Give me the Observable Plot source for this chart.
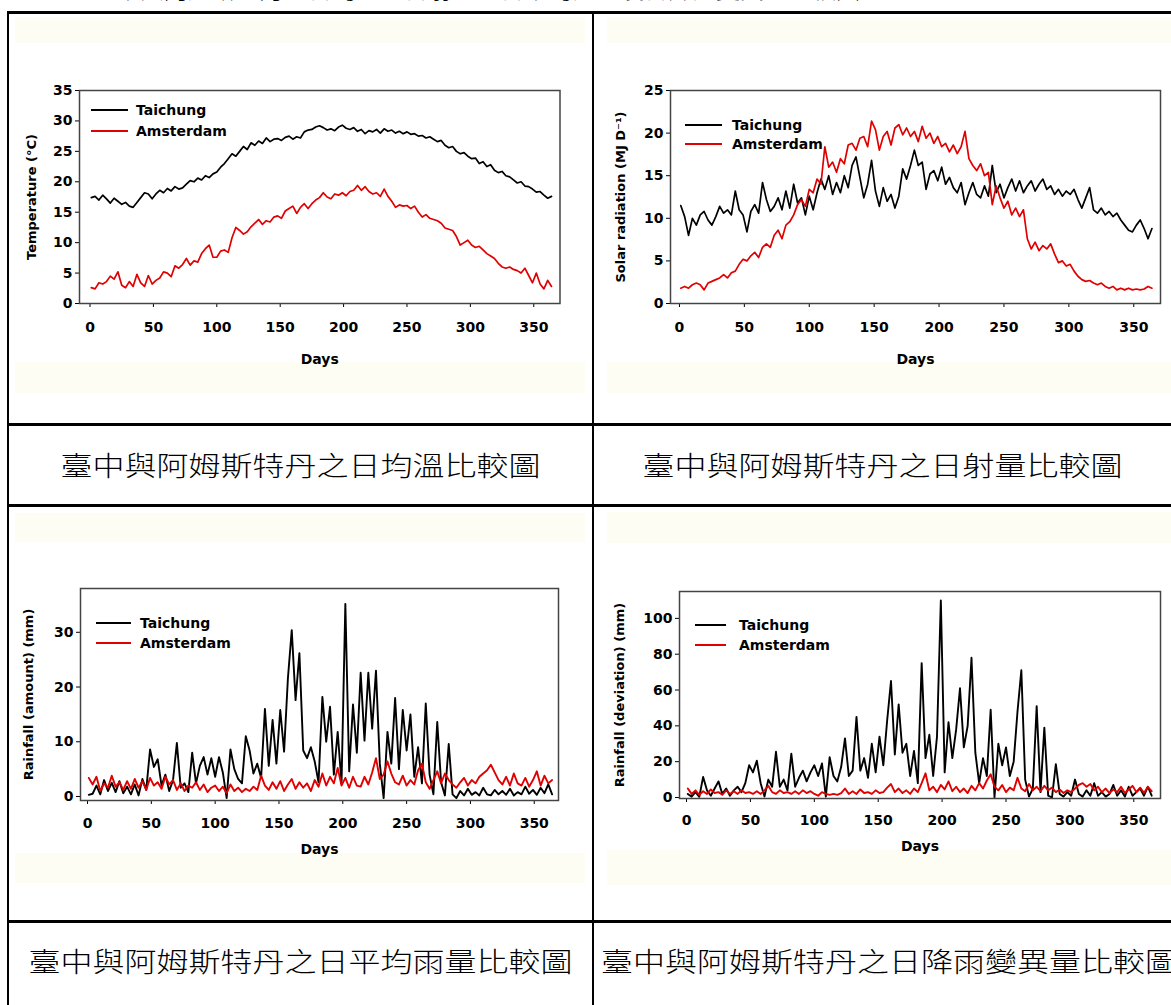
<!DOCTYPE html>
<html><head><meta charset="utf-8">
<script src="https://cdn.jsdelivr.net/npm/d3@7"></script>
<script src="https://cdn.jsdelivr.net/npm/@observablehq/plot@0.6"></script>
<style>
body{margin:0;background:#fff;}
#page{position:relative;width:1171px;height:1005px;overflow:hidden;background:#fff;}
.ln{position:absolute;background:#000;}
.cream{position:absolute;background:#fdfdf3;}
.cap{position:absolute;font-family:"Noto Sans CJK TC","Noto Sans CJK SC",sans-serif;font-weight:300;font-size:27px;line-height:30px;color:#000;white-space:nowrap;text-align:center;}
.cap span{display:inline-block;transform:scaleX(1.185);}
.sw{position:absolute;height:2px;}
.lt{position:absolute;font-family:"DejaVu Sans",sans-serif;font-weight:bold;font-size:14px;line-height:18px;white-space:nowrap;color:#000;}
</style></head>
<body><div id="page"></div>
<script>
// ---------- data (daily values read every 3rd day: day 1, 4, 7, ... 364) ----------
const cities = ["Taichung", "Amsterdam"];
const cityColors = ["#000000", "#e00000"];
const dayTicks = [0, 50, 100, 150, 200, 250, 300, 350];
const tempTicks = [0, 5, 10, 15, 20, 25, 30, 35];
const solarTicks = [0, 5, 10, 15, 20, 25];
const rainTicks = [0, 10, 20, 30];
const devTicks = [0, 20, 40, 60, 80, 100];

const taichungTemp = [17.4,17.6,17.0,17.8,17.2,16.5,17.3,16.8,16.3,16.6,
16.0,15.8,16.6,17.4,18.2,18.0,17.2,18.0,18.6,18.2,
18.9,18.5,19.2,18.8,19.0,19.6,20.2,20.0,20.6,20.3,
21.0,20.7,21.3,21.6,22.4,23.0,23.8,24.6,24.2,25.0,
25.8,25.3,26.4,26.0,26.7,26.3,27.2,26.6,27.0,27.1,
26.8,27.3,27.5,27.0,27.4,27.2,28.2,28.5,28.6,29.0,
29.2,28.9,28.5,28.7,28.4,29.0,29.3,28.8,28.6,28.9,
28.3,28.6,27.9,28.4,28.2,28.6,28.0,28.7,28.3,28.5,
28.0,28.3,27.9,28.2,27.8,27.9,27.5,27.6,27.2,27.4,
27.0,26.6,26.8,26.0,25.6,25.8,25.0,24.6,24.8,24.2,
23.8,23.9,23.0,23.3,22.5,22.8,21.9,21.5,21.7,21.0,
20.8,20.3,19.8,20.0,19.3,19.2,18.8,18.3,18.4,17.8,
17.3,17.6];
const amsterdamTemp = [2.6,2.4,3.4,3.2,3.6,4.5,4.0,5.2,3.0,2.6,
3.6,2.8,4.8,3.4,2.8,4.6,3.2,3.8,4.2,5.2,
5.0,4.4,6.2,5.8,6.4,7.4,6.3,7.0,6.8,8.2,
9.0,9.6,7.6,7.6,8.6,8.8,8.4,10.8,12.5,12.0,
11.4,11.8,12.6,13.2,13.8,13.0,13.6,13.4,14.2,14.4,
14.0,15.2,15.6,16.0,14.8,15.8,16.4,15.6,16.4,17.0,
17.4,18.2,17.5,17.2,18.0,17.8,18.2,17.7,18.4,18.6,
19.4,18.6,19.2,18.4,18.0,18.2,17.6,18.8,17.6,16.8,
15.8,16.2,16.0,16.1,15.6,16.0,15.0,14.2,14.6,14.0,
13.8,13.6,13.2,12.4,12.2,12.0,11.0,9.6,10.0,10.4,
9.6,9.2,9.4,8.8,8.2,7.8,7.4,6.6,6.0,5.8,
6.0,5.6,5.4,5.0,5.8,4.6,3.4,5.0,3.2,2.4,
3.8,2.8];
const taichungSolar = [11.5,10.2,8.0,10.0,9.2,10.4,10.8,9.8,9.2,10.2,
11.4,10.6,11.0,10.4,13.2,11.0,10.4,8.4,10.8,11.6,
10.6,14.2,12.2,10.8,11.4,12.4,11.0,13.2,11.2,14.0,
11.8,12.4,10.4,12.6,11.0,13.0,14.6,13.4,15.0,12.8,
14.2,13.0,15.0,13.6,16.2,17.2,14.8,12.4,14.0,16.8,
13.2,11.4,13.6,12.0,12.8,11.2,12.6,15.8,14.6,16.2,
18.0,16.2,16.6,13.4,15.2,15.6,14.4,16.0,14.0,14.8,
13.6,13.0,14.2,11.6,13.0,14.2,12.8,12.4,13.8,12.6,
16.2,13.0,14.0,12.4,13.6,14.6,13.2,14.4,13.0,13.8,
14.4,13.2,14.0,14.6,13.4,13.8,12.8,13.4,12.6,13.2,
12.8,13.4,12.2,11.2,12.4,13.6,11.0,10.6,11.2,10.4,
10.8,10.2,10.6,9.8,9.2,8.6,8.4,9.2,9.8,8.8,
7.6,8.8];
const amsterdamSolar = [1.8,2.0,1.8,2.2,2.4,2.2,1.6,2.4,2.6,2.8,
3.0,3.4,3.0,3.6,3.8,4.6,5.2,5.0,5.6,6.0,
5.4,6.6,7.0,6.6,8.0,8.6,7.6,9.2,9.6,10.4,
11.6,12.2,11.4,13.4,13.0,14.6,14.0,18.4,16.0,16.6,
15.4,17.0,16.4,18.6,18.8,18.0,19.4,19.6,18.4,21.4,
20.4,18.0,19.6,20.2,18.6,20.6,21.0,19.8,20.6,19.6,
20.2,19.0,20.8,19.4,20.0,18.8,19.6,18.4,18.8,17.8,
18.6,17.6,18.4,20.2,17.0,16.2,15.6,16.4,15.0,15.4,
11.6,13.8,12.4,11.2,12.0,10.4,11.2,10.2,11.0,7.6,
6.4,7.2,6.2,6.8,6.4,7.0,5.8,4.8,5.0,4.4,
4.6,3.8,3.2,2.8,2.6,2.7,2.4,2.2,2.4,2.0,
1.8,2.0,1.6,1.8,1.6,1.8,1.6,1.7,1.6,1.7,
2.0,1.8];
const taichungRain = [0.3,0.5,2.0,0.4,3.0,1.0,2.5,0.8,2.8,0.6,
1.8,0.4,2.2,0.2,3.2,1.2,8.6,5.4,6.8,2.0,
4.0,1.0,3.0,9.8,1.6,2.4,0.8,8.0,2.4,5.6,
7.2,4.0,7.0,3.6,7.2,4.4,-0.3,8.6,5.0,3.2,
2.4,11.0,8.4,4.2,6.0,3.4,16.0,5.6,14.0,6.0,
15.8,8.2,21.6,30.4,17.6,26.2,8.4,7.0,9.0,6.4,
2.6,18.2,10.0,16.4,4.0,11.8,2.4,35.2,4.6,16.8,
8.0,22.6,10.2,22.6,12.4,23.0,6.0,-0.3,11.8,6.0,
18.0,5.0,15.8,8.4,15.0,3.6,9.0,2.4,17.0,4.0,
0.4,13.6,2.6,0.2,9.6,0.4,-0.3,1.0,0.2,1.4,
0.3,0.8,0.2,1.6,0.4,0.2,1.2,0.4,1.0,0.3,
1.4,0.2,0.8,0.4,1.8,0.5,1.2,0.3,1.6,0.6,
2.2,0.4];
const amsterdamRain = [3.4,2.2,3.6,1.0,2.4,1.6,3.8,1.8,2.6,1.2,
2.8,1.4,3.2,1.6,2.8,1.2,3.4,2.0,2.6,1.4,
3.6,2.2,3.0,1.2,2.4,1.0,2.0,1.6,2.6,1.2,
2.2,0.8,1.6,2.0,1.0,1.8,0.6,2.2,1.0,1.6,
0.8,1.4,1.0,1.8,1.2,3.8,2.0,1.2,2.6,1.4,
2.8,1.0,2.2,3.2,1.4,2.6,1.6,2.4,1.0,3.0,
1.8,4.2,2.0,3.6,2.4,5.2,2.0,3.4,1.6,3.6,
2.0,1.8,3.6,2.2,4.4,7.0,3.2,4.0,6.4,4.2,
2.6,2.2,3.8,2.0,3.0,2.2,4.8,6.0,2.6,1.4,
3.0,4.6,2.4,4.2,3.0,2.2,1.6,2.6,3.4,2.0,
3.0,2.4,3.6,4.2,4.8,5.8,4.4,3.0,2.2,3.6,
2.0,4.2,2.4,2.0,3.4,1.8,3.0,4.6,2.0,3.8,
2.4,3.0];
const taichungDev = [2.0,0.5,3.0,0.4,11.5,4.0,1.0,5.0,9.0,2.0,
5.0,1.0,4.0,6.0,3.0,8.0,18.0,14.0,20.5,8.0,
0.5,10.0,6.0,25.5,6.0,10.0,4.0,24.5,6.0,11.0,
15.0,9.0,14.0,18.0,12.0,19.0,0.5,22.5,12.0,9.0,
17.0,33.0,12.0,15.0,45.0,15.0,22.0,11.0,30.0,14.0,
34.0,18.0,43.0,65.0,24.0,52.0,25.0,30.0,12.0,26.0,
8.0,75.0,22.0,35.0,12.0,34.0,110.0,14.0,42.0,22.0,
38.0,61.0,28.0,40.0,78.0,25.0,8.0,22.0,12.0,49.0,
0.0,30.0,18.0,28.0,12.0,20.0,48.0,71.0,10.0,0.5,
5.0,51.0,3.0,39.0,1.0,0.0,18.6,2.0,0.5,3.0,
1.0,10.0,2.0,0.5,4.0,1.0,8.0,1.0,3.0,0.5,
2.0,7.0,1.0,4.0,0.5,6.0,1.0,3.0,5.0,1.0,
6.0,1.0];
const amsterdamDev = [5.0,2.0,4.0,1.5,3.5,2.0,4.5,2.5,3.0,1.5,
4.0,2.0,3.5,2.0,4.0,2.5,3.0,2.0,3.5,2.0,
4.0,6.5,3.0,2.0,4.0,2.5,3.0,2.0,3.5,2.0,
4.0,2.5,3.5,2.0,1.0,3.0,2.0,1.5,2.0,1.5,
2.5,5.0,2.0,3.5,2.0,4.5,2.5,3.0,2.0,4.0,
2.5,3.0,5.5,7.5,3.0,5.0,2.5,4.0,2.0,5.0,
3.0,8.0,13.5,4.0,6.0,3.0,7.0,4.5,9.0,3.5,
6.0,3.0,5.0,2.5,6.5,4.0,8.0,5.0,9.5,13.0,
6.0,4.0,7.0,3.0,5.5,4.0,11.0,5.0,3.5,7.5,
4.0,6.0,3.5,6.5,4.0,5.5,3.0,4.5,2.5,4.0,
3.0,5.0,7.0,8.0,6.0,7.5,4.0,6.0,3.0,5.0,
2.5,4.5,3.0,6.0,2.5,4.5,6.5,3.0,5.5,2.5,
6.0,3.5];

const captions = ["臺中與阿姆斯特丹之日均溫比較圖", "臺中與阿姆斯特丹之日射量比較圖",
  "臺中與阿姆斯特丹之日平均雨量比較圖", "臺中與阿姆斯特丹之日降雨變異量比較圖"];
const topLine = "臺中與阿姆斯特丹之日均溫、日射量、日平均雨量及日降雨變異量比較圖";

// ---------- layout ----------
const page = document.getElementById("page");
function box(cls, l, t, w, h, html) {
  const d = document.createElement("div");
  d.className = cls;
  Object.assign(d.style, {left: l + "px", top: t + "px"});
  if (w != null) d.style.width = w + "px";
  if (h != null) d.style.height = h + "px";
  if (html != null) d.innerHTML = html;
  page.appendChild(d);
  return d;
}
// cream bands of the pasted chart images
box("cream", 15, 17, 570, 26); box("cream", 15, 362, 570, 31);
box("cream", 607, 17, 564, 26); box("cream", 607, 362, 564, 31);
box("cream", 15, 513, 570, 29); box("cream", 15, 853, 570, 30);
box("cream", 607, 512, 564, 31); box("cream", 607, 850, 564, 35);

// table rules
box("ln", 7, 11, 1164, 2.5);
box("ln", 7, 423, 1164, 3);
box("ln", 7, 504, 1164, 3);
box("ln", 7, 920, 1164, 2.5);
box("ln", 7, 11, 2, 994);
box("ln", 592, 11, 1.6, 994);

// captions
box("cap", 9, 450, 583, null, `<span>${captions[0]}</span>`);
box("cap", 594, 450, 577, null, `<span>${captions[1]}</span>`);
box("cap", 9, 946, 583, null, `<span>${captions[2]}</span>`);
const cap4 = box("cap", 601, 946, null, null, `<span style="transform-origin:left center">${captions[3]}</span>`);
cap4.style.textAlign = "left";
const topT = box("cap", 92, -24, null, null, `<span style="transform-origin:left center;transform:scaleX(1.2)">${topLine}</span>`);
topT.style.textAlign = "left"; topT.style.fontSize = "20px";

// charts
function chart(spec) {
  const {tai, ams, frame: [L, T, R, B], xDomain, yDomain, yTicks, yLabel, yLabelOffset, xLabelOffset, xTickPadding, legend, sw} = spec;
  const mL = 80, mT = 40, mR = 20, mB = 75;
  const rows = [];
  [tai, ams].forEach((vals, k) => vals.forEach((v, i) => rows.push({day: 1 + 3 * i, value: v, city: cities[k]})));
  const svg = Plot.plot({
    width: R - L + mL + mR, height: B - T + mT + mB,
    marginLeft: mL, marginRight: mR, marginTop: mT, marginBottom: mB,
    style: {background: "transparent", fontFamily: "'DejaVu Sans', sans-serif", fontSize: "14px", fontWeight: "bold", color: "#000", overflow: "visible"},
    x: {domain: xDomain, ticks: dayTicks, tickFormat: "d", tickSize: 4, tickPadding: xTickPadding, label: "Days", labelAnchor: "center", labelOffset: xLabelOffset, labelArrow: "none"},
    y: {domain: yDomain, ticks: yTicks, tickFormat: "d", tickSize: 4, tickPadding: 3, label: yLabel, labelAnchor: "center", labelOffset: yLabelOffset, labelArrow: "none"},
    color: {domain: cities, range: cityColors},
    marks: [
      Plot.line(rows, {x: "day", y: "value", z: "city", stroke: "city", strokeWidth: sw}),
      Plot.frame({stroke: "#444", strokeWidth: 1.5})
    ]
  });
  Object.assign(svg.style, {position: "absolute", left: (L - mL) + "px", top: (T - mT) + "px", maxWidth: "none"});
  const yl = svg.querySelector('[aria-label="y-axis label"]');
  if (yl) yl.setAttribute("font-size", "13");
  page.appendChild(svg);
  const [lx, lw, y1, y2, tx] = legend;
  [y1, y2].forEach((y, k) => {
    const s = box("sw", lx, y - 1, lw, 2); s.style.background = cityColors[k];
    box("lt", tx, y - 9, null, null, cities[k]);
  });
}

chart({tai: taichungTemp, ams: amsterdamTemp, frame: [78.5, 90, 559, 303], xDomain: [-8.3, 370.7], yDomain: [0, 35], yTicks: tempTicks,
  yLabel: "Temperature (°C)", yLabelOffset: 53, xLabelOffset: 60, xTickPadding: 15, legend: [91, 37, 110, 131, 136], sw: 1.7});
chart({tai: taichungSolar, ams: amsterdamSolar, frame: [670, 90, 1160, 303], xDomain: [-6.9, 370.6], yDomain: [0, 25], yTicks: solarTicks,
  yLabel: "Solar radiation (MJ D⁻¹)", yLabelOffset: 55, xLabelOffset: 60, xTickPadding: 15, legend: [685, 37, 125, 144, 732], sw: 1.7});
chart({tai: taichungRain, ams: amsterdamRain, frame: [80, 588, 558, 800], xDomain: [-5.5, 369], yDomain: [-0.73, 38], yTicks: rainTicks,
  yLabel: "Rainfall (amount) (mm)", yLabelOffset: 57, xLabelOffset: 53, xTickPadding: 14, legend: [96, 35, 623, 643, 140], sw: 1.9});
chart({tai: taichungDev, ams: amsterdamDev, frame: [679, 591, 1160, 798], xDomain: [-5.5, 370.9], yDomain: [-0.56, 115], yTicks: devTicks,
  yLabel: "Rainfall (deviation) (mm)", yLabelOffset: 65, xLabelOffset: 52, xTickPadding: 13, legend: [695, 31, 625, 645, 739], sw: 1.9});
</script>
</body></html>
